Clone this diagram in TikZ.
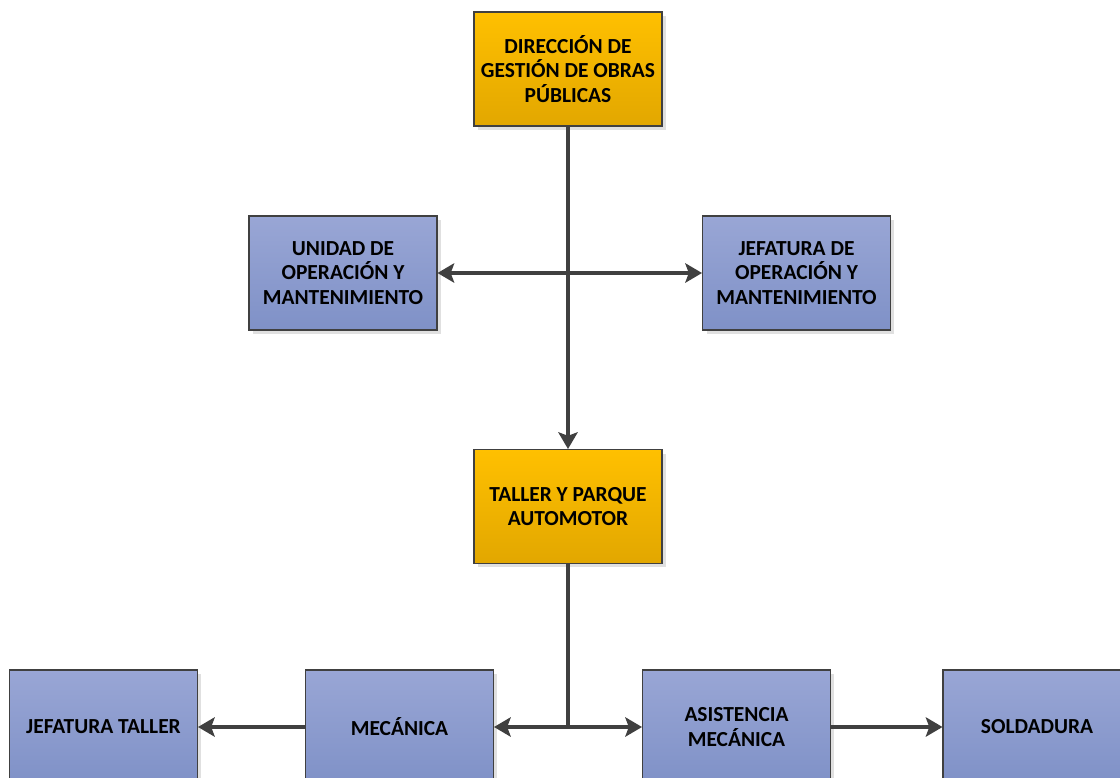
\documentclass[tikz,border=0pt]{standalone}
\usepackage{fontspec}
\setmainfont{Carlito}
\usetikzlibrary{arrows.meta,shadows}
\definecolor{orgtop}{HTML}{FFC000}
\definecolor{orgbot}{HTML}{E2A700}
\definecolor{blutop}{HTML}{99A6D5}
\definecolor{blubot}{HTML}{7F91C7}
\definecolor{edge}{HTML}{404040}
\tikzset{
  unit/.style={draw=edge, line width=0.6pt, minimum width=3.76cm, minimum height=2.28cm,
    align=center, font=\bfseries\fontsize{12.2}{14}\selectfont,
    drop shadow={shadow xshift=0.08cm, shadow yshift=-0.08cm, fill=black!12, opacity=1}},
  headbox/.style={unit, top color=orgtop, bottom color=orgbot},
  areabox/.style={unit, top color=blutop, bottom color=blubot},
  link/.style={draw=edge, line width=1.8pt},
  tip/.style={-{Stealth[length=9.5pt, width=11pt, inset=2pt]}},
  tips/.style={{Stealth[length=9.5pt, width=11pt, inset=2pt]}-{Stealth[length=9.5pt, width=11pt, inset=2pt]}}
}
\begin{document}
\begin{tikzpicture}[x=0.02cm, y=-0.02cm]
\clip (0,0) rectangle (1120,778);
\fill[white] (0,0) rectangle (1120,778);

% boxes
\node[headbox] (dir)    at (568,69)    {DIRECCIÓN DE\\GESTIÓN DE OBRAS\\PÚBLICAS};
\node[areabox] (unidad) at (343,273)   {UNIDAD DE\\OPERACIÓN Y\\MANTENIMIENTO};
\node[areabox] (jefop)  at (796.5,273) {JEFATURA DE\\OPERACIÓN Y\\MANTENIMIENTO};
\node[headbox] (taller) at (568,506.5) {TALLER Y PARQUE\\AUTOMOTOR};
\node[areabox] (jeft)   at (103.5,727) {JEFATURA TALLER};
\node[areabox] (mec)    at (399.5,727) {MECÁNICA};
\node[areabox] (asis)   at (736.5,727) {ASISTENCIA\\MECÁNICA};
\node[areabox] (sold)   at (1037,727)  {SOLDADURA};

% junction on the lower row
\coordinate (j2) at (568,727);

% connectors
\draw[link, tips] (unidad.east) -- (jefop.west);
\draw[link, tip] (dir.south) -- (taller.north);
\draw[link] (taller.south) -- (j2);
\draw[link, tips] (mec.east) -- (asis.west);
\draw[link, tip] (mec.west) -- (jeft.east);
\draw[link, tip] (asis.east) -- (sold.west);
\end{tikzpicture}
\end{document}
